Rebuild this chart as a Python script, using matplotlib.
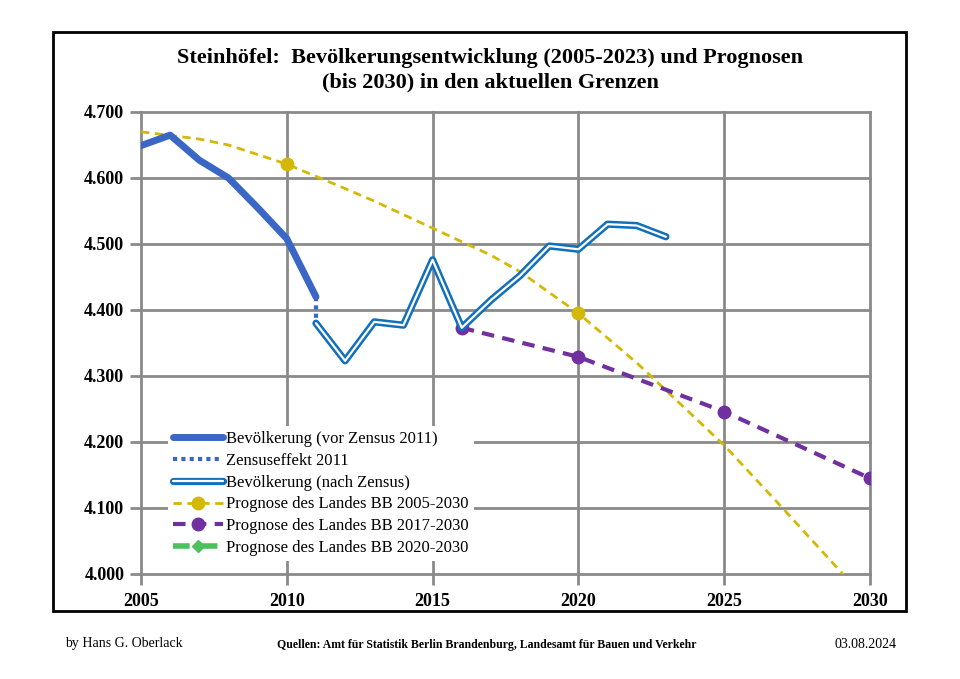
import matplotlib.pyplot as plt
import matplotlib.patheffects as pe
from matplotlib.lines import Line2D
from matplotlib.patches import Rectangle
from matplotlib.ticker import FuncFormatter

# Bevoelkerung vor Zensus 2011
years_pre = [2005, 2006, 2007, 2008, 2009, 2010, 2011]
pop_pre = [4649, 4665, 4627, 4600, 4555, 4508, 4420]

# Zensuseffekt 2011
years_zensus = [2011, 2011]
pop_zensus = [4420, 4380]

# Bevoelkerung nach Zensus
years_post = [2011, 2012, 2013, 2014, 2015, 2016, 2017, 2018, 2019, 2020, 2021, 2022, 2023]
pop_post = [4380, 4323, 4382, 4377, 4476, 4373, 4415, 4452, 4497, 4492, 4530, 4528, 4511]

# Prognose 2005-2030 (Marker nur 2010 und 2020)
years_p05 = [2005, 2007, 2008, 2010, 2012, 2013, 2015, 2017, 2018, 2020, 2022, 2025, 2027, 2030]
pop_p05 = [4670, 4659, 4650, 4621, 4584, 4565, 4524, 4483, 4458, 4395, 4320, 4195, 4100, 3955]
marker_years_p05 = [2010, 2020]

# Prognose 2017-2030
years_p17 = [2016, 2020, 2025, 2030]
pop_p17 = [4373, 4329, 4246, 4145]

x_ticks = [2005, 2010, 2015, 2020, 2025, 2030]
y_ticks = [4000, 4100, 4200, 4300, 4400, 4500, 4600, 4700]

title = ("Steinhöfel:  Bevölkerungsentwicklung (2005-2023) und Prognosen\n"
         "(bis 2030) in den aktuellen Grenzen")

c_pre = '#3a66c6'
c_post = '#1270bb'
c_yellow = '#d4b806'
c_purple = '#7030a0'
c_green = '#4cc05a'
c_grid = '#8a8a8a'

plt.rcParams['font.family'] = ['Liberation Serif', 'DejaVu Serif']

fig = plt.figure(figsize=(9.6, 6.79), dpi=100)
ax = fig.add_axes([141 / 960, 1 - 574 / 679, 729 / 960, 462 / 679])

double_line = [pe.Stroke(linewidth=5.2, foreground=c_post), pe.Normal()]

ax.plot(years_pre, pop_pre, color=c_pre, lw=5, solid_capstyle='round', zorder=5)
ax.plot(years_zensus, pop_zensus, color=c_pre, lw=3, linestyle=(0, (1, 1)), zorder=5)
ax.plot(years_post, pop_post, color='white', lw=1.6, solid_capstyle='round',
        path_effects=double_line, zorder=5)

marks = [years_p05.index(y) for y in marker_years_p05]
ax.plot(years_p05, pop_p05, color=c_yellow, lw=2, linestyle=(0, (3, 2)),
        marker='o', markersize=9, markevery=marks, zorder=4)
ax.plot(years_p17, pop_p17, color=c_purple, lw=3, linestyle=(0, (3, 2)),
        marker='o', markersize=9, zorder=4)

ax.set_xlim(2005, 2030)
ax.set_ylim(4000, 4700)
ax.set_xticks(x_ticks)
ax.set_yticks(y_ticks)
ax.grid(True, color=c_grid, lw=2)
for g in ax.get_xgridlines() + ax.get_ygridlines():
    g.set_clip_on(False)
for s in ax.spines.values():
    s.set_visible(False)
ax.tick_params(axis='both', color=c_grid, width=2, length=8, direction='out')
ax.tick_params(axis='x', pad=6)
ax.tick_params(axis='y', pad=4)
ax.yaxis.set_major_formatter(FuncFormatter(lambda v, p: f'{v / 1000:.3f}'))
for lab in ax.get_xticklabels() + ax.get_yticklabels():
    lab.set_fontsize(13)
    lab.set_fontweight('bold')

h_pre = Line2D([], [], color=c_pre, lw=5, solid_capstyle='round')
h_zen = Line2D([], [], color=c_pre, lw=3, linestyle=(0, (1, 1)))
h_post = Line2D([], [], color='white', lw=1.6, solid_capstyle='round',
                path_effects=double_line)
h_p05 = Line2D([], [], color=c_yellow, lw=2, linestyle=(0, (3, 2)), marker='o', markersize=9)
h_p17 = Line2D([], [], color=c_purple, lw=3, linestyle=(0, (3, 2)), marker='o', markersize=9)
h_p20 = Line2D([], [], color=c_green, lw=4, linestyle=(0, (3, 2)), marker='D', markersize=6)
leg = ax.legend([h_pre, h_zen, h_post, h_p05, h_p17, h_p20],
                ['Bevölkerung (vor Zensus 2011)', 'Zensuseffekt 2011',
                 'Bevölkerung (nach Zensus)', 'Prognose des Landes BB 2005-2030',
                 'Prognose des Landes BB 2017-2030', 'Prognose des Landes BB 2020-2030'],
                loc='lower left', bbox_to_anchor=(0.025, 0.01), frameon=True,
                facecolor='white', edgecolor='none', framealpha=1, fancybox=False,
                fontsize=12, handlelength=3.0, handletextpad=0.2,
                labelspacing=0.35, borderpad=0.3)
leg.set_zorder(10)

fig.text(490 / 960, 1 - 70 / 679, title, ha='center', va='center',
         fontsize=16, fontweight='bold', linespacing=1.3)

fig.text(65 / 960, 1 - 643 / 679, 'by Hans G. Oberlack', ha='left', va='center', fontsize=10)
fig.text(487 / 960, 1 - 645 / 679,
         'Quellen: Amt für Statistik Berlin Brandenburg, Landesamt für Bauen und Verkehr',
         ha='center', va='center', fontsize=8.5, fontweight='bold')
fig.text(897 / 960, 1 - 645 / 679, '03.08.2024', ha='right', va='center', fontsize=10)

fig.patches.append(Rectangle((53 / 960, 1 - 611 / 679), 853 / 960, 579 / 679,
                             transform=fig.transFigure, fill=False,
                             edgecolor='black', lw=2))

fig.savefig('out.png', dpi=100)
